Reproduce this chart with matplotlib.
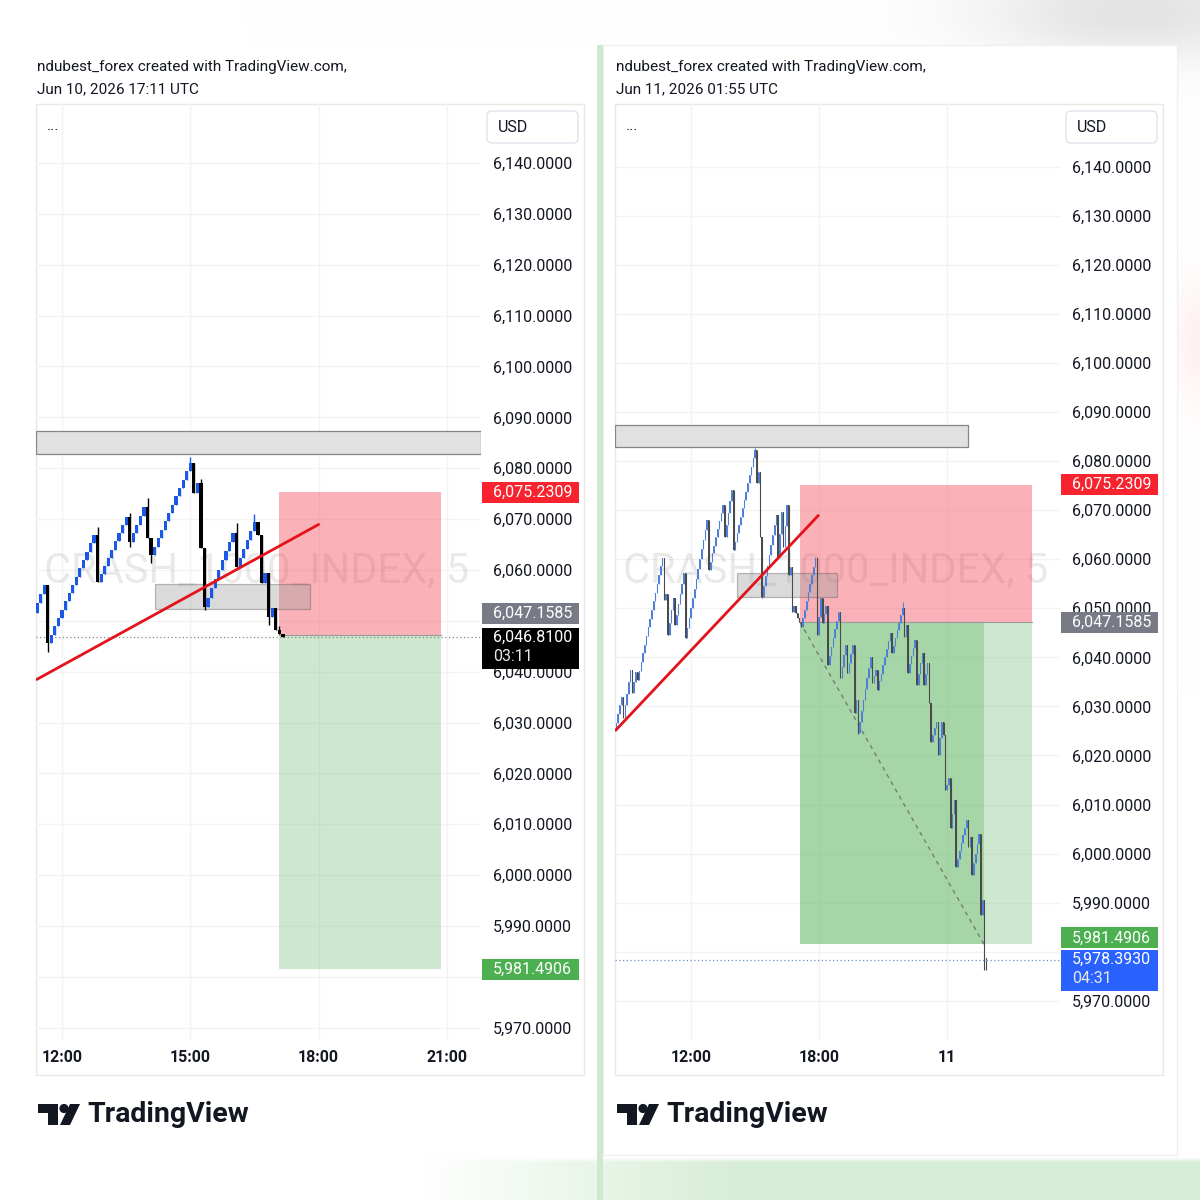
import numpy as np
import matplotlib
matplotlib.use('Agg')
import matplotlib.pyplot as plt
import matplotlib.transforms as mtransforms
from matplotlib.patches import Rectangle, FancyBboxPatch, Polygon, Circle
from matplotlib.ticker import FuncFormatter

plt.rcParams['font.family'] = ['Roboto', 'DejaVu Sans']

W, H = 1200, 1200

# ---------------------------------------------------------------
# data (5 min bars, bar 0 = 12:00)
# ---------------------------------------------------------------
entry = 6047.1585
stop = 6075.2309
target = 5981.4906

# left chart: Jun 10, 2026 17:11 UTC
left_first_bar = -7
left_first_open = 6051.6
left_close = [6053.5, 6055.3, 6057.1, 6045.7,
              6047.3, 6049.0, 6050.6, 6052.2, 6053.9, 6055.5, 6057.1, 6058.7, 6060.4,
              6062.0, 6063.6, 6065.3, 6066.9,
              6057.6,
              6059.2, 6060.8, 6062.4, 6064.0, 6065.6, 6067.2, 6068.8, 6070.4,
              6065.5,
              6067.2, 6068.9, 6070.6, 6072.3,
              6066.3, 6063.0,
              6064.6, 6066.3, 6067.9, 6069.6, 6071.2, 6072.8, 6074.5, 6076.1, 6077.7, 6079.4, 6081.0,
              6075.1, 6077.1, 6064.3, 6052.7,
              6054.5, 6056.4, 6058.2, 6060.0, 6061.9, 6063.7, 6065.5, 6067.3,
              6060.6,
              6062.4, 6064.1, 6065.9, 6067.6, 6069.4,
              6066.9, 6057.5, 6059.4, 6050.8, 6052.5, 6048.2, 6047.5, 6046.81]
left_high = {10: 6068.5, 19: 6071.2, 24: 6074.2, 36: 6082.2, 39: 6077.9, 49: 6069.2, 54: 6071.0, 61: 6049.0}
left_low = {-4: 6043.9, 19: 6064.5, 25: 6061.4, 40: 6052.1, 58: 6049.2}
left_last = 6046.81
left_countdown = '03:11'
left_ticks = [0, 36, 72, 108]
left_ticklabels = ['12:00', '15:00', '18:00', '21:00']
left_hidden_prices = [6050, 5980]
left_xview = (-7.3, 117.6)
left_yview = (5967.6, 6151.6)
left_trend = ([-7.3, 72.3], [6038.4, 6069.05])
left_zone_top = (-7.3, 117.6, 6082.8, 6087.3)
left_zone_mid = (26.2, 69.5, 6052.3, 6057.3)
left_position = (61.0, 106.3)
left_tag_shift = {'entry': 22, 'target': 0}

# right chart: Jun 11, 2026 01:55 UTC
right_first_bar = -42
right_first_open = 6025.5
right_close = [6026.7, 6028.5, 6030.3, 6032.0, 6027.7, 6030.2, 6032.6, 6035.0, 6037.5, 6032.8,
               6035.0, 6037.1, 6035.4,
               6037.2, 6039.0, 6040.8, 6042.5, 6044.3, 6046.1, 6047.9, 6049.7, 6051.4, 6053.2,
               6055.0, 6056.8, 6058.6, 6060.3,
               6051.7, 6053.0, 6044.6,
               6047.1, 6049.6, 6052.1,
               6046.6,
               6048.7, 6050.8, 6052.9, 6055.0, 6057.2,
               6044.0,
               6046.0, 6048.0, 6050.0, 6052.0, 6054.0, 6056.0, 6058.0, 6060.0, 6062.0, 6064.0,
               6066.0, 6068.0,
               6057.9,
               6059.5, 6061.2, 6062.8, 6064.5, 6066.1, 6067.8, 6069.4, 6071.1,
               6064.6,
               6067.0, 6069.4, 6071.8, 6074.2,
               6061.9,
               6063.6, 6065.3, 6067.0, 6068.7, 6070.4, 6072.1, 6073.8, 6075.5, 6077.2, 6078.9,
               6080.6, 6082.3,
               6075.6, 6077.8, 6064.6, 6052.4,
               6054.5, 6056.6, 6058.7, 6060.8, 6062.9, 6065.0, 6067.0, 6069.1,
               6060.5, 6065.1, 6069.7, 6062.5, 6066.8, 6071.1, 6056.8, 6058.5, 6049.3, 6050.5,
               6049.1, 6048.0, 6047.3, 6046.2,
               6048.0, 6049.7, 6051.5, 6053.3, 6055.0, 6056.8, 6058.5, 6060.3,
               6044.6, 6048.3, 6052.1, 6047.1, 6048.8, 6050.5, 6038.5,
               6040.3, 6042.1, 6043.9, 6045.7, 6047.5, 6049.3,
               6035.8,
               6038.1, 6040.4, 6042.6,
               6036.9,
               6038.8, 6040.7, 6042.6,
               6028.7, 6031.4, 6024.6,
               6026.8, 6029.0, 6031.3, 6033.5, 6035.7, 6037.9, 6040.1,
               6034.8, 6036.2, 6037.5, 6033.4,
               6035.1, 6036.7, 6038.4, 6040.0, 6041.7, 6043.3, 6045.0,
               6040.9,
               6042.4, 6044.0, 6045.5, 6047.0, 6048.6, 6050.1,
               6044.2, 6046.5, 6036.9,
               6038.6, 6040.3, 6042.0, 6043.6,
               6034.4,
               6036.6, 6038.8, 6040.9,
               6034.4, 6036.6, 6038.9, 6030.7, 6022.8,
               6024.2, 6025.6, 6026.9,
               6020.1, 6023.5, 6026.9, 6024.2, 6013.0, 6014.0, 6015.5, 6005.3, 6008.0, 6011.0, 5997.3,
               5998.9, 6000.5, 6002.1, 6003.7, 6005.3, 6006.9,
               6001.4, 6003.4, 5995.7,
               5998.0, 6000.0, 6002.0, 6003.9,
               5987.5, 5990.6, 5978.4, 5978.393]
right_high = {36: 6082.6, 119: 6051.3}
right_low = {40: 6052.0, 94: 6024.3, 165: 5976.3, 166: 5976.3}
right_last = 5978.393
right_countdown = '04:31'
right_ticks = [0, 72, 144]
right_ticklabels = ['12:00', '18:00', '11']
right_hidden_prices = [5980]
right_xview = (-42.7, 207.5)
right_yview = (5962.0, 6152.8)
right_trend = ([-42.7, 72.0], [6025.0, 6069.07])
right_zone_top = (-42.7, 155.8, 6082.9, 6087.4)
right_zone_mid = (25.9, 82.1, 6052.35, 6057.2)
right_position = (61.3, 191.8)
right_filled = 164.8
right_tag_shift = {'entry': 0, 'target': 6.5}

price_ticks = np.arange(5970, 6141, 10)

# ---------------------------------------------------------------
fig = plt.figure(figsize=(12, 12), dpi=100)

# background layer in pixel coordinates
bg = fig.add_axes([0, 0, 1, 1])
bg.set_xlim(0, W)
bg.set_ylim(H, 0)
bg.axis('off')

yy, xx = np.mgrid[0:H:5, 0:W:5].astype(float)
img = np.ones(xx.shape + (3,))
haze = 0.11 * np.exp(-((xx - 1130) / 150) ** 2 - ((yy - 10) / 50) ** 2)
img -= haze[..., None]
pink = 0.06 * np.exp(-((xx - 1200) / 30) ** 2 - ((yy - 340) / 60) ** 2)
img[..., 1] -= pink
img[..., 2] -= pink
g = np.clip((xx - 420) / 320, 0, 1) * (yy > 1155)
green = np.array([0.84, 0.93, 0.84])
img = img * (1 - g[..., None]) + green * g[..., None]
bg.imshow(img, extent=(0, W, H, 0), interpolation='bilinear', zorder=0)

bg.add_patch(Rectangle((10, 45), 587, 1110, fc='white', ec='none', zorder=1))
bg.add_patch(Rectangle((603, 45), 574, 1110, fc='white', ec='#f0f0f0', lw=1, zorder=1))
bg.add_patch(Rectangle((597, 45), 6, 1155, fc='#cfe8cf', ec='none', zorder=1))

for ox, when in [(0, 'Jun 10, 2026 17:11 UTC'), (579, 'Jun 11, 2026 01:55 UTC')]:
    bg.text(37 + ox, 67, 'ndubest_forex created with TradingView.com,', fontsize=11,
            color='#131722', va='center', zorder=3)
    bg.text(37 + ox, 89, when, fontsize=11, color='#131722', va='center', zorder=3)
    # panel frame
    bg.add_patch(Rectangle((36 + ox, 104), 548, 971, fc='none', ec='#e8e8e8', lw=1, zorder=2))
    # USD box and menu dots
    bg.add_patch(FancyBboxPatch((487 + ox, 111), 91, 32, boxstyle='round,pad=0,rounding_size=5',
                                fc='white', ec='#e0e3eb', lw=1, zorder=3))
    bg.text(498 + ox, 127, 'USD', fontsize=11.5, color='#131722', va='center', zorder=4)
    bg.text(47 + ox, 126, '...', fontsize=11, color='#131722', va='center', zorder=4)
    # TradingView logo
    bg.add_patch(Polygon([(38 + ox, 1104), (58 + ox, 1104), (58 + ox, 1125), (48 + ox, 1125),
                          (48 + ox, 1113), (38 + ox, 1113)], fc='#131722', ec='none', zorder=3))
    bg.add_patch(Circle((64 + ox, 1108.5), 4.6, fc='#131722', ec='none', zorder=3))
    bg.add_patch(Polygon([(70 + ox, 1104), (80 + ox, 1104), (70 + ox, 1125), (60 + ox, 1125)],
                         fc='#131722', ec='none', zorder=3))
    bg.text(87 + ox, 1115, 'TradingView', fontsize=20.5, fontweight='bold', color='#131722',
            va='center', zorder=3)


def candles(ax, first, open0, closes, highs, lows, up, down, width, wick_lw):
    c = np.array(closes, dtype=float)
    o = np.concatenate([[open0], c[:-1]])
    x = first + np.arange(len(c))
    hi = np.maximum(o, c)
    lo = np.minimum(o, c)
    for k, v in highs.items():
        hi[k - first] = v
    for k, v in lows.items():
        lo[k - first] = v
    col = np.where(c >= o, up, down)
    ax.vlines(x, lo, hi, colors=col, lw=wick_lw, zorder=3)
    body_lo = np.minimum(o, c)
    body_h = np.maximum(np.abs(c - o), 0.35)
    ax.bar(x, body_h, bottom=body_lo, width=width, color=col, linewidth=0, zorder=3.1)


def price_tag(ax, price, fc, sub=None, shift_px=0):
    y0, y1 = ax.get_ylim()
    upp = (y1 - y0) / 936.0
    tr = mtransforms.blended_transform_factory(ax.transAxes, ax.transData)
    yc = price + shift_px * upp
    if sub is None:
        bot, top = yc - 10.5 * upp, yc + 10.5 * upp
    else:
        bot, top = yc - 31.5 * upp, yc + 9.5 * upp
    ax.add_patch(Rectangle((1 + 1 / 445, bot), 97 / 445, top - bot, transform=tr, fc=fc,
                           ec='none', zorder=5, clip_on=False))
    ax.text(1 + 12 / 445, yc, f'{price:,.4f}', transform=tr, color='white', fontsize=11.5,
            va='center', ha='left', zorder=6, clip_on=False)
    if sub is not None:
        ax.text(1 + 12 / 445, yc - 19 * upp, sub, transform=tr, color='#e8e8e8', fontsize=11.5,
                va='center', ha='left', zorder=6, clip_on=False)


def panel(left_px, first, open0, closes, highs, lows, last, countdown, ticks, ticklabels,
          hidden, xview, yview, trend, zone_top, zone_mid, position, filled, tag_shift,
          up, down, width, wick_lw, last_color, last_line, wm_y):
    ax = fig.add_axes([left_px / W, 1 - 1040 / H, 445 / W, 936 / H])
    ax.set_facecolor('none')
    ax.set_xlim(*xview)
    ax.set_ylim(*yview)
    for s in ax.spines.values():
        s.set_visible(False)
    ax.set_axisbelow(True)
    ax.grid(True, color='#f3f3f3', lw=1)

    ax.yaxis.tick_right()
    ax.set_yticks(price_ticks)
    ax.yaxis.set_major_formatter(FuncFormatter(
        lambda v, p: '' if round(v) in hidden else f'{v:,.4f}'))
    ax.tick_params(axis='y', length=0, pad=8.6, labelsize=11.5, labelcolor='#131722')
    ax.set_xticks(ticks)
    ax.set_xticklabels(ticklabels, fontweight='bold')
    ax.tick_params(axis='x', length=0, pad=7.5, labelsize=11.5, labelcolor='#131722')

    # symbol watermark
    ax.text(0.019, wm_y, 'CRASH_1000_INDEX, 5', transform=mtransforms.blended_transform_factory(
        ax.transAxes, ax.transData), fontsize=30, color='black', alpha=0.085, va='center',
        ha='left', zorder=0.6, clip_on=True)

    # short position tool
    ax.add_patch(Rectangle((position[0], entry), position[1] - position[0], stop - entry,
                           fc='#f23645', alpha=0.38, lw=0, zorder=1))
    ax.add_patch(Rectangle((position[0], target), position[1] - position[0], entry - target,
                           fc='#4caf50', alpha=0.28, lw=0, zorder=1))
    if filled is not None:
        ax.add_patch(Rectangle((position[0], target), filled - position[0], entry - target,
                               fc='#4caf50', alpha=0.3, lw=0, zorder=1.1))
        ax.plot([position[0], filled], [entry, target], color='#7a7a7a', lw=1,
                ls=(0, (3, 3)), zorder=2)
    ax.plot([position[0], position[1]], [entry, entry], color='#9a9a9a', lw=0.8, zorder=1.2)

    # zones
    ax.add_patch(Rectangle((zone_top[0], zone_top[2]), zone_top[1] - zone_top[0],
                           zone_top[3] - zone_top[2], fc='#e1e1e1', ec='#858585', lw=0.9, zorder=1.5))
    ax.add_patch(Rectangle((zone_mid[0], zone_mid[2]), zone_mid[1] - zone_mid[0],
                           zone_mid[3] - zone_mid[2], fc='#9e9e9e', alpha=0.38, ec='#555555',
                           lw=0.9, zorder=1.6))

    ax.axhline(last, color=last_line, lw=0.9, ls=(0, (1, 2)), zorder=2)
    candles(ax, first, open0, closes, highs, lows, up, down, width, wick_lw)
    ax.plot(trend[0], trend[1], color='#e3121b', lw=2, zorder=4, solid_capstyle='butt')

    price_tag(ax, stop, '#f7232e')
    price_tag(ax, entry, '#787b86', shift_px=tag_shift['entry'])
    price_tag(ax, target, '#4caf50', shift_px=tag_shift['target'])
    price_tag(ax, last, last_color, sub=countdown)
    return ax


panel(36, left_first_bar, left_first_open, left_close, left_high, left_low, left_last,
      left_countdown, left_ticks, left_ticklabels, left_hidden_prices, left_xview, left_yview,
      left_trend, left_zone_top, left_zone_mid, left_position, None, left_tag_shift,
      '#1c58e6', '#000000', 0.9, 1.0, '#000000', '#8a8a8a', 6059.8)

panel(615, right_first_bar, right_first_open, right_close, right_high, right_low, right_last,
      right_countdown, right_ticks, right_ticklabels, right_hidden_prices, right_xview, right_yview,
      right_trend, right_zone_top, right_zone_mid, right_position, right_filled, right_tag_shift,
      '#4f80d8', '#4a4a4a', 0.7, 0.8, '#2962ff', '#6d8fc4', 6057.6)

fig.savefig('out.png', dpi=100)
